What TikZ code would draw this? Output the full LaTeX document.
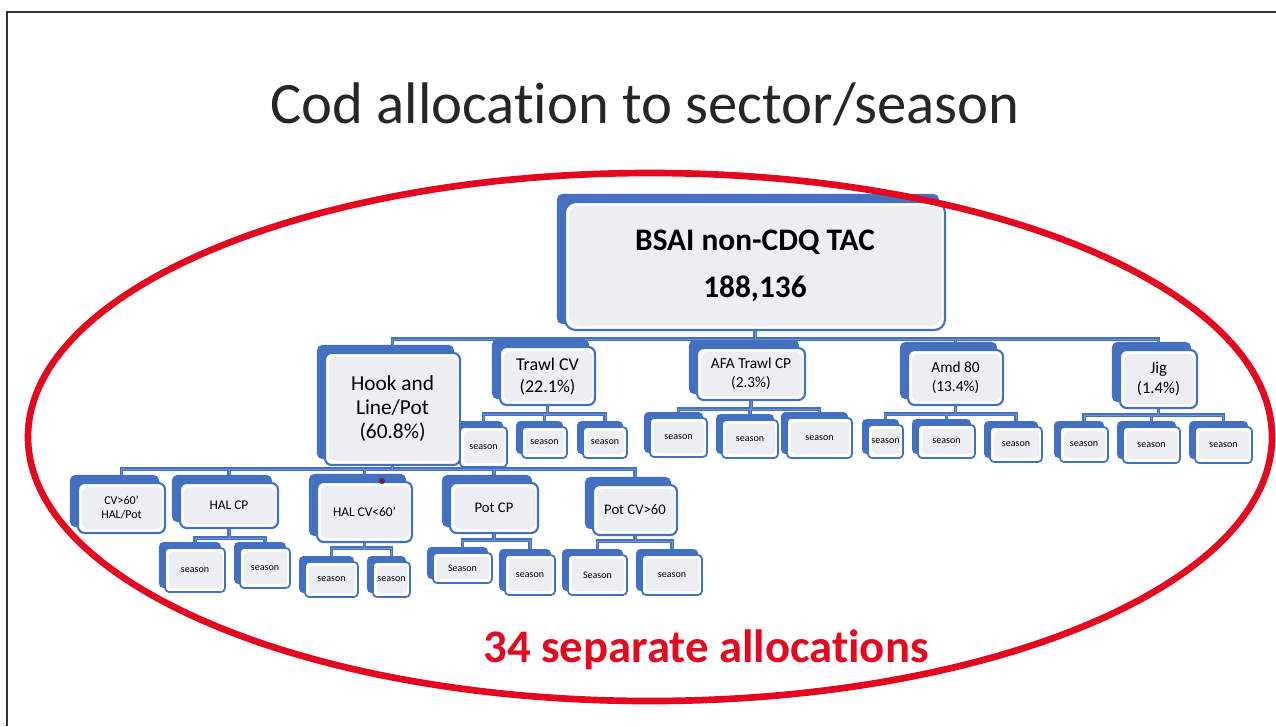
\documentclass[tikz,border=0pt]{standalone}
\usepackage{fontspec}
\setmainfont{Carlito}[Ligatures={NoCommon,NoContextual}]
\usetikzlibrary{backgrounds}

\definecolor{boxblue}{RGB}{68,113,191}
\definecolor{boxgray}{RGB}{235,238,243}
\definecolor{linkpale}{RGB}{112,148,212}
\definecolor{ringred}{RGB}{226,8,32}
\definecolor{inkdot}{RGB}{120,24,64}

\tikzset{
  dims/.style 2 args={minimum width=#1*0.75pt, minimum height=#2*0.75pt},
  unit/.style={draw=boxblue, line width=1.6pt, fill=white, rounded corners=5pt,
    inner sep=1pt, align=center,
    path picture={\fill [boxgray] ([shift={(3pt,-3pt)}]path picture bounding box.north west)
      rectangle ([shift={(-2pt,3pt)}]path picture bounding box.south east);}},
  topbox/.style={unit, rounded corners=8pt, font=\fontsize{23.5}{35}\selectfont\bfseries},
  sector/.style={unit, font=\fontsize{11.5}{14}\selectfont},
  gear/.style={unit, font=\fontsize{10}{12}\selectfont},
  seasonbox/.style={unit, line width=1.3pt, rounded corners=3pt, font=\fontsize{7.5}{8}\selectfont},
  backing/.style={fill=boxblue, rounded corners=4pt},
  link/.style={draw=boxblue, line width=1pt, double=linkpale, double distance=0.6pt},
  ring/.style={draw=ringred, line width=5pt}
}

\begin{document}
\begin{tikzpicture}[x=0.75pt,y=0.75pt,yscale=-1,xscale=1]
\useasboundingbox (0,0) rectangle (1276,726);

%Straight Lines [slide frame]
\draw [line width=1.5pt, black!80] (7,726) -- (7,12) -- (1276,12) ;

% Text Node
\node [anchor=base, font=\fontsize{44}{50}\selectfont, text=black!85] (title) at (645,123) {Cod allocation to sector/season};

%Shape: total
\node [topbox, dims={380}{128}] (tac) at (755,266) {BSAI non-CDQ TAC\\188,136};

%Shape: sectors
\node [sector, dims={135}{112}, font=\fontsize{16}{18}\selectfont] (hook) at (392.5,409) {Hook and\\Line/Pot\\(60.8\%)};
\node [sector, dims={95}{58}, font=\fontsize{13.5}{16.5}\selectfont] (trawl) at (547.5,376) {Trawl CV\\(22.1\%)};
\node [sector, dims={108}{52}] (afa) at (751,374) {AFA Trawl CP\\(2.3\%)};
\node [sector, dims={95}{55}] (amd) at (955.5,377.5) {Amd 80\\(13.4\%)};
\node [sector, dims={77}{58}, font=\fontsize{12.5}{15}\selectfont] (jig) at (1158.5,379) {Jig\\(1.4\%)};

%Shape: seasons of the trawl, amd 80 and jig sectors
\node [seasonbox, dims={47}{40}] (t1) at (483.5,447) {season};
\node [seasonbox, dims={45}{31}] (t2) at (544.5,442.5) {season};
\node [seasonbox, dims={44}{31}] (t3) at (605,442.5) {season};
\node [seasonbox, dims={57}{39}] (a1) at (678.5,437.5) {season};
\node [seasonbox, dims={56}{38}] (a2) at (750,439) {season};
\node [seasonbox, dims={65}{40}] (a3) at (819.5,438) {season};
\node [seasonbox, dims={35}{33}] (m1) at (885.5,441.5) {season};
\node [seasonbox, dims={57}{33}] (m2) at (946.5,441.5) {season};
\node [seasonbox, dims={52}{35}] (m3) at (1016,444.5) {season};
\node [seasonbox, dims={48}{35}] (j1) at (1084,444.5) {season};
\node [seasonbox, dims={57}{36}] (j2) at (1151.5,445) {season};
\node [seasonbox, dims={57}{36}] (j3) at (1223.5,445) {season};

%Shape: hook and line / pot gear
\node [gear, dims={87}{50}, font=\fontsize{9}{10.5}\selectfont] (cv60) at (121.5,508) {CV>60’\\HAL/Pot};
\node [gear, dims={98}{45}] (halcp) at (229,505.5) {HAL CP};
\node [gear, dims={95}{60}] (halcv) at (364.5,512) {HAL CV<60’};
\node [gear, dims={88}{50}, font=\fontsize{11}{13}\selectfont] (potcp) at (494,508) {Pot CP};
\node [gear, dims={84}{50}, font=\fontsize{11}{13}\selectfont] (potcv) at (635,510) {Pot CV>60};

%Shape: seasons of the gear
\node [seasonbox, dims={60}{44}] (h1) at (195,570) {season};
\node [seasonbox, dims={50}{40}] (h2) at (265,568) {season};
\node [seasonbox, dims={53}{35}] (c1) at (331.5,579.5) {season};
\node [seasonbox, dims={37}{35}] (c2) at (391.5,579.5) {season};
\node [seasonbox, dims={59}{30}] (p1) at (462.5,568) {Season};
\node [seasonbox, dims={50}{40}] (p2) at (530,575) {season};
\node [seasonbox, dims={59}{40}] (q1) at (597.5,575) {Season};
\node [seasonbox, dims={60}{40}] (q2) at (672,575) {season};

\begin{scope}[on background layer]
%Straight Lines [tree links]
\draw [link] (tac.south) -- ++(0,8) -| (hook.north) (tac.south) -- ++(0,8) -| (trawl.north) (tac.south) -- ++(0,8) -| (afa.north) (tac.south) -- ++(0,8) -| (amd.north) (tac.south) -- ++(0,8) -| (jig.north) ;
\draw [link] (trawl.south) -- ++(0,8) -| (t1.north) (trawl.south) -- ++(0,8) -| (t2.north) (trawl.south) -- ++(0,8) -| (t3.north) ;
\draw [link] (afa.south) -- ++(0,8) -| (a1.north) (afa.south) -- ++(0,8) -| (a2.north) (afa.south) -- ++(0,8) -| (a3.north) ;
\draw [link] (amd.south) -- ++(0,8) -| (m1.north) (amd.south) -- ++(0,8) -| (m2.north) (amd.south) -- ++(0,8) -| (m3.north) ;
\draw [link] (jig.south) -- ++(0,6) -| (j1.north) (jig.south) -- ++(0,6) -| (j2.north) (jig.south) -- ++(0,6) -| (j3.north) ;
\draw [link] (hook.south) -- ++(0,3) -| (cv60.north) (hook.south) -- ++(0,3) -| (halcp.north) (hook.south) -- ++(0,3) -| (halcv.north) (hook.south) -- ++(0,3) -| (potcp.north) (hook.south) -- ++(0,3) -| (potcv.north) ;
\draw [link] (halcp.south) -- ++(0,9) -| (h1.north) (halcp.south) -- ++(0,9) -| (h2.north) ;
\draw [link] (halcv.south) -- ++(0,5) -| (c1.north) (halcv.south) -- ++(0,5) -| (c2.north) ;
\draw [link] (potcp.south) -- ++(0,6) -| (p1.north) (potcp.south) -- ++(0,6) -| (p2.north) ;
\draw [link] (potcv.south) -- ++(0,5) -| (q1.north) (potcv.south) -- ++(0,5) -| (q2.north) ;
%Shape: back sheets, up and to the left of each box
\foreach \n in {tac,hook,trawl,afa,amd,jig,cv60,halcp,halcv,potcp,potcv}
  \fill [backing] ([shift={(-7,-7)}]\n.north west) rectangle ([shift={(-7,-7)}]\n.south east) ;
\foreach \n in {t1,t2,t3,a1,a2,a3,m1,m2,m3,j1,j2,j3,h1,h2,c1,c2,p1,p2,q1,q2}
  \fill [backing, rounded corners=3pt] ([shift={(-5,-5)}]\n.north west) rectangle ([shift={(-5,-5)}]\n.south east) ;
\end{scope}

%Shape: Circle [ink dot]
\fill [inkdot] (382,481) circle [radius=3] ;

%Shape: Ellipse [ring]
\draw [ring] (650,437) ellipse [x radius=622, y radius=264] ;

% Text Node
\node [anchor=base, font=\fontsize{35}{40}\selectfont\bfseries, text=ringred] (count) at (706,662) {34 separate allocations};

\end{tikzpicture}
\end{document}
